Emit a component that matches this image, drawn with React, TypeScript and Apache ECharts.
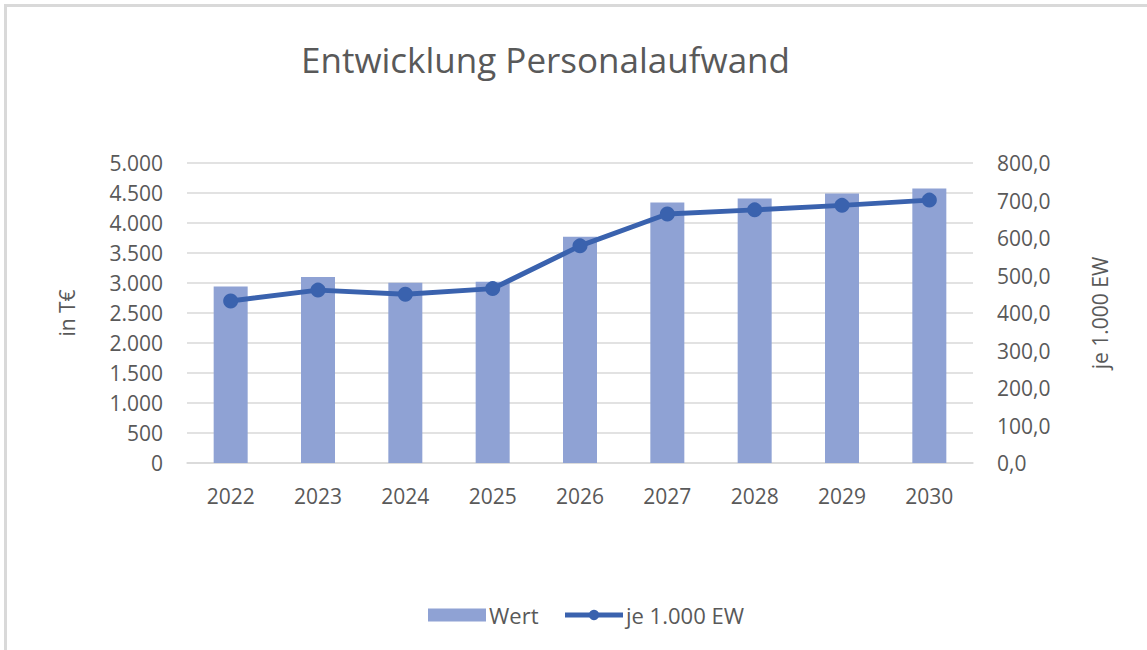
import React, { useEffect, useRef } from "react";
import * as echarts from "echarts";

const categories = ["2022", "2023", "2024", "2025", "2026", "2027", "2028", "2029", "2030"];
const wertValues = [2940, 3100, 3005, 3020, 3770, 4340, 4410, 4490, 4575];
const jeEwValues = [432, 461, 450, 465, 579, 664, 675, 687, 701];
const leftTicks = { min: 0, max: 5000, interval: 500 };
const rightTicks = { min: 0, max: 800, interval: 100 };

const FONT = "'Open Sans', sans-serif";
const TEXT = "#595959";
const LINE_COLOR = "#3a62ae";

function fmtThousands(v: number): string {
  return String(Math.round(v)).replace(/\B(?=(\d{3})+(?!\d))/g, ".");
}

export default function App() {
  const ref = useRef<HTMLDivElement>(null);
  useEffect(() => {
    if (!ref.current) return;
    const chart = echarts.init(ref.current, undefined, { renderer: "svg" });
    chart.setOption({
      animation: false,
      backgroundColor: "#ffffff",
      title: {
        text: "Entwicklung Personalaufwand",
        left: 296,
        top: 37,
        textStyle: { fontFamily: FONT, fontSize: 35, fontWeight: "normal", color: TEXT },
      },
      graphic: [
        { type: "line", shape: { x1: 4, y1: 5.5, x2: 1147, y2: 5.5 }, style: { stroke: "#d9d9d9", lineWidth: 3 } },
        { type: "line", shape: { x1: 5.5, y1: 4, x2: 5.5, y2: 650 }, style: { stroke: "#d9d9d9", lineWidth: 3 } },
      ],
      legend: {
        left: 423,
        top: 599,
        itemGap: 24,
        itemWidth: 58,
        itemHeight: 13,
        textStyle: { fontFamily: FONT, fontSize: 22, color: TEXT, padding: [0, 0, 0, -2] },
        data: [
          { name: "Wert", icon: "rect" },
          { name: "je 1.000 EW", lineStyle: { width: 5, color: LINE_COLOR } },
        ],
      },
      grid: { left: 187, right: 174, top: 163, bottom: 187 },
      xAxis: {
        type: "category",
        data: categories,
        axisLine: { lineStyle: { color: "#d9d9d9", width: 1.5 } },
        axisTick: { show: false },
        axisLabel: { fontFamily: FONT, fontSize: 21, color: TEXT, margin: 22 },
      },
      yAxis: [
        {
          type: "value",
          min: leftTicks.min,
          max: leftTicks.max,
          interval: leftTicks.interval,
          name: "in T€",
          nameLocation: "middle",
          nameRotate: 90,
          nameGap: 110,
          nameTextStyle: { fontFamily: FONT, fontSize: 21, color: TEXT },
          axisLine: { show: false },
          axisTick: { show: false },
          splitLine: { lineStyle: { color: "#d9d9d9", width: 1.5 } },
          axisLabel: { fontFamily: FONT, fontSize: 21, color: TEXT, margin: 24, formatter: (v: number) => fmtThousands(v) },
        },
        {
          type: "value",
          min: rightTicks.min,
          max: rightTicks.max,
          interval: rightTicks.interval,
          name: "je 1.000 EW",
          nameLocation: "middle",
          nameRotate: 90,
          nameGap: 116,
          nameTextStyle: { fontFamily: FONT, fontSize: 21, color: TEXT },
          axisLine: { show: false },
          axisTick: { show: false },
          splitLine: { show: false },
          axisLabel: {
            fontFamily: FONT,
            fontSize: 21,
            color: TEXT,
            margin: 24,
            formatter: (v: number) => v.toFixed(1).replace(".", ","),
          },
        },
      ],
      series: [
        {
          name: "Wert",
          type: "bar",
          data: wertValues,
          yAxisIndex: 0,
          barWidth: 34,
          itemStyle: { color: "#8fa2d4" },
        },
        {
          name: "je 1.000 EW",
          type: "line",
          data: jeEwValues,
          yAxisIndex: 1,
          symbol: "circle",
          symbolSize: 15,
          lineStyle: { color: LINE_COLOR, width: 5 },
          itemStyle: { color: LINE_COLOR },
        },
      ],
    });
    return () => chart.dispose();
  }, []);
  return (
    <div
      ref={ref}
      style={{ position: "absolute", left: 0, top: 0, width: 1147, height: 650 }}
    />
  );
}
